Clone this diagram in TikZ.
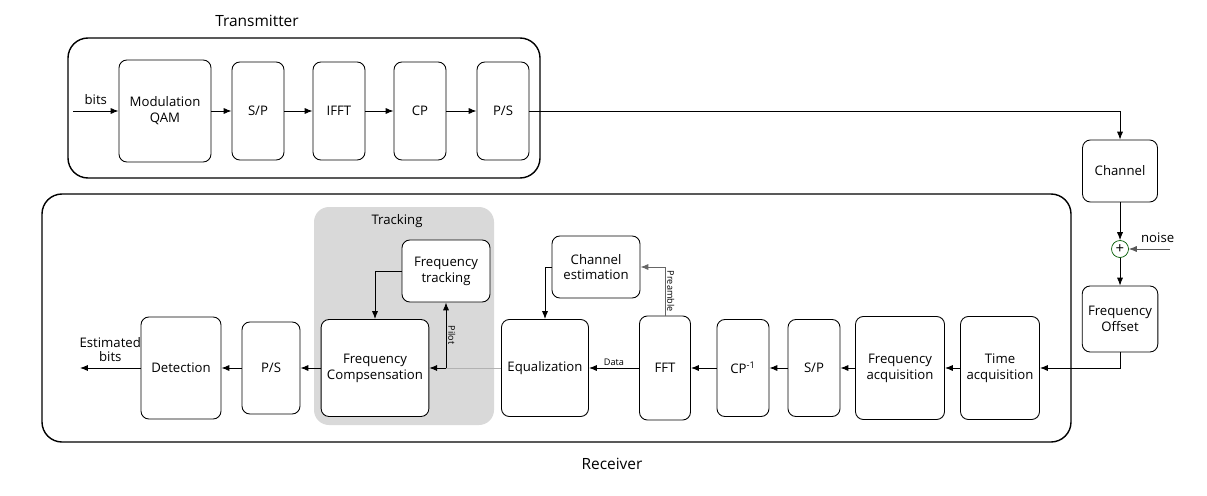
\documentclass[tikz,border=0pt]{standalone}
\usepackage{fontspec}
\setmainfont{Open Sans}
\usetikzlibrary{positioning,shapes,arrows.meta}
\tikzstyle{block} = [rectangle, draw, rounded corners=4.5pt, align=center, line width=0.5pt, font=\fontsize{7.5}{9}\selectfont]
\tikzstyle{frame} = [draw, rounded corners=0.4cm, line width=0.8pt]
\tikzstyle{tag} = [font=\fontsize{5.2}{6}\selectfont, inner sep=1pt, text=black]

\begin{document}
\begin{tikzpicture}[>={Latex[length=4.5pt,width=3.5pt]}, line width=0.5pt]
\useasboundingbox (0,0) rectangle (24.14,-9.9);
\fill[gray!30, rounded corners=0.3cm] (6.28,-4.14) rectangle (9.88,-8.5);
\draw[frame] (1.36,-0.76) rectangle (10.8,-3.56);
\draw[frame] (0.84,-3.88) rectangle (21.42,-8.84);
\node[font=\fontsize{8.8}{10}\selectfont] (txlabel) at (5.14,-0.42) {Transmitter};
\node[font=\fontsize{8.8}{10}\selectfont] (rxlabel) at (12.24,-9.28) {Receiver};
\node[font=\fontsize{7.5}{9}\selectfont] (trlabel) at (7.94,-4.42) {Tracking};
\node[block, minimum width=1.84cm, minimum height=2.04cm] (qam) at (3.30,-2.22) {Modulation\\QAM};
\node[block, minimum width=1.04cm, minimum height=1.96cm] (sp) at (5.16,-2.22) {S/P};
\node[block, minimum width=1.04cm, minimum height=1.96cm] (ifft) at (6.78,-2.22) {IFFT};
\node[block, minimum width=1.04cm, minimum height=1.96cm] (cp) at (8.40,-2.22) {CP};
\node[block, minimum width=1.04cm, minimum height=1.96cm] (ps) at (10.06,-2.22) {P/S};
\coordinate (bitsin) at (1.46,-2.22);
\node[block, minimum width=1.5cm, minimum height=1.24cm] (channel) at (22.4,-3.42) {Channel};
\node[circle, draw=green!35!black, line width=0.4pt, inner sep=0pt, minimum size=0.34cm, font=\fontsize{8.5}{8.5}\selectfont] (sum) at (22.4,-4.98) {+};
\coordinate (noisein) at (23.4,-4.98);
\node[block, minimum width=1.5cm, minimum height=1.32cm] (foffset) at (22.4,-6.38) {Frequency\\Offset};
\node[block, minimum width=1.58cm, minimum height=2.06cm] (tacq) at (20.0,-7.36) {Time\\acquisition};
\node[block, minimum width=1.78cm, minimum height=2.06cm] (facq) at (18.0,-7.36) {Frequency\\acquisition};
\node[block, minimum width=1.04cm, minimum height=1.94cm] (sprx) at (16.28,-7.36) {S/P};
\node[block, minimum width=1.04cm, minimum height=1.94cm] (cpinv) at (14.86,-7.36) {CP\textsuperscript{-1}};
\node[block, minimum width=1.02cm, minimum height=2.08cm] (fft) at (13.30,-7.36) {FFT};
\node[block, minimum width=1.76cm, minimum height=1.24cm] (chest) at (11.92,-5.34) {Channel\\estimation};
\node[block, minimum width=1.74cm, minimum height=1.94cm] (eq) at (10.90,-7.36) {Equalization};
\node[block, fill=white, minimum width=1.76cm, minimum height=1.24cm] (ftrack) at (8.92,-5.42) {Frequency\\tracking};
\node[block, fill=white, minimum width=2.08cm, minimum height=1.94cm] (fcomp) at (7.50,-7.36) {Frequency\\Compsensation};
\coordinate (pilot) at (8.92,-7.36);
\node[block, minimum width=1.16cm, minimum height=1.84cm] (psrx) at (5.42,-7.36) {P/S};
\node[block, minimum width=1.6cm, minimum height=2.04cm] (detect) at (3.62,-7.36) {Detection};
\coordinate (bitsout) at (1.6,-7.36);
\draw[->] (bitsin) -- node[above, font=\fontsize{7.5}{9}\selectfont] {bits} (qam);
\draw[->] (qam) -- (sp);
\draw[->] (sp) -- (ifft);
\draw[->] (ifft) -- (cp);
\draw[->] (cp) -- (ps);
\draw[->] (ps) -| (channel);
\draw[->] (channel) -- (sum);
\draw[->, gray!70!black] (noisein) -- node[pos=0.3, above, text=black, font=\fontsize{7.5}{9}\selectfont] {noise} (sum);
\draw[->] (sum) -- (foffset);
\draw[->] (foffset) |- (tacq);
\draw[->] (tacq) -- (facq);
\draw[->] (facq) -- (sprx);
\draw[->] (sprx) -- (cpinv);
\draw[->] (cpinv) -- (fft);
\draw[->] (fft) -- node[tag, above] {Data} (eq);
\draw[->, gray!80!black] (fft) |- node[tag, pos=0.25, right, rotate=-90, anchor=south] {Preamble} (chest);
\draw[->] (chest) -| (eq);
\draw[gray!60] (eq) -- (pilot);
\draw[->] (pilot) -- (fcomp);
\draw[->] (pilot) -- node[tag, right, rotate=-90, anchor=south] {Pilot} (ftrack);
\draw[->] (ftrack) -| (fcomp);
\draw[->] (fcomp) -- (psrx);
\draw[->] (psrx) -- (detect);
\draw[->] (detect) -- node[above, align=center, font=\fontsize{7.5}{8.2}\selectfont] {Estimated\\bits} (bitsout);
\end{tikzpicture}
\end{document}
